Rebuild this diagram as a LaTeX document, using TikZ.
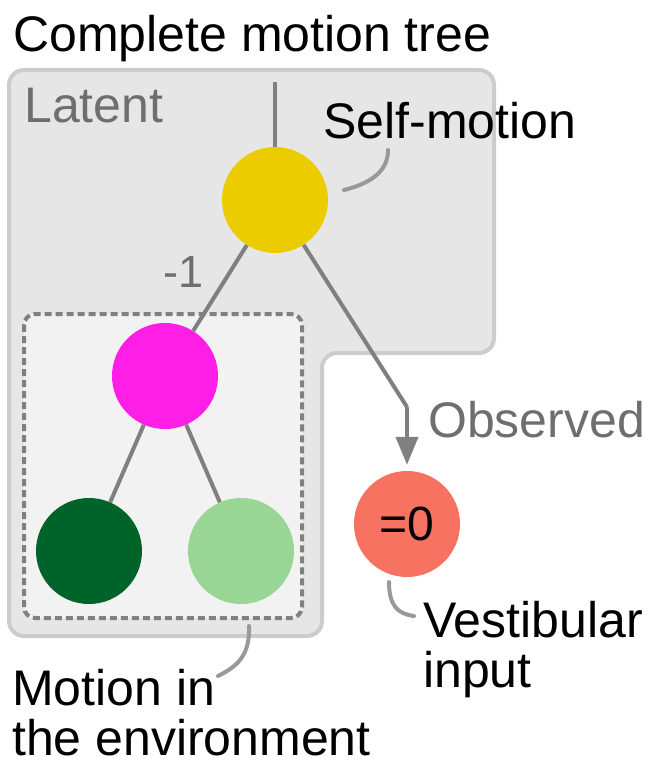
\documentclass[tikz,border=0pt]{standalone}
\usepackage{fontspec}
\setmainfont{Liberation Sans}
\usetikzlibrary{arrows.meta}

\definecolor{selfcol}{RGB}{235,204,0}
\definecolor{envcol}{RGB}{255,30,230}
\definecolor{darkcol}{RGB}{0,100,42}
\definecolor{lightcol}{RGB}{153,213,148}
\definecolor{vestcol}{RGB}{248,114,98}
\definecolor{linegray}{RGB}{128,128,128}
\definecolor{textgray}{RGB}{110,110,110}
\definecolor{calloutgray}{RGB}{153,153,153}
\definecolor{latentfill}{RGB}{230,230,230}
\definecolor{latentline}{RGB}{204,204,204}
\definecolor{envfill}{RGB}{242,242,242}

\begin{document}
\begin{tikzpicture}[x=1pt,y=-1pt,
    motion/.style={circle,minimum size=106pt,inner sep=0pt},
    link/.style={draw=linegray,line width=4pt},
    callout/.style={draw=calloutgray,line width=4pt,line cap=round},
    lbl/.style={font=\fontsize{50}{50}\selectfont,inner sep=0pt,anchor=base west,align=left}]
		\useasboundingbox (0,0) rectangle (650,768);

		% Latent region and the environment group
		\draw [fill=latentfill, draw=latentline, line width=4pt, rounded corners=15pt]
			(9,70) -- (494,70) -- (494,353) -- (322,353) -- (322,636) -- (9,636) -- cycle;
		\draw [fill=envfill, draw=linegray, line width=4pt, dash pattern=on 7pt off 4pt, rounded corners=11pt]
			(24,314) rectangle (302,618);

		% Nodes of the tree
		\coordinate (Root) at (275,82);
		\coordinate (Bend) at (407,407);
		\node[motion, fill=selfcol]  (Self)  at (275,200) {};
		\node[motion, fill=envcol]   (Env)   at (165,376) {};
		\node[motion, fill=darkcol]  (EnvA)  at (89,551)  {};
		\node[motion, fill=lightcol] (EnvB)  at (241,551) {};
		\node[motion, fill=vestcol, font=\fontsize{48}{48}\selectfont] (Vest) at (407,524) {=0};

		% Edges
		\draw [link] (Root) -- (Self);
		\draw [link] (Self) -- (Env);
		\draw [link] (Env) -- (EnvA);
		\draw [link] (Env) -- (EnvB);
		\draw [link] (Self) -- (Bend);
		\draw [link, -{Triangle[length=28pt,width=22pt]}, shorten >=6pt] (Bend) -- (Vest.north);

		% Labels
		\node[lbl] (Title)    at (13,52)  {Complete motion tree};
		\node[lbl, text=textgray] (Latent) at (24,122) {Latent};
		\node[lbl] (SelfLbl)  at (323,138) {Self-motion};
		\node[lbl, text=textgray, font=\fontsize{45}{45}\selectfont] (Weight) at (163,287) {-1};
		\node[lbl, text=textgray] (Observed) at (428,437) {Observed};
		\node[lbl] (VestLbl)  at (423,687) {Vestibular\\input};
		\node[lbl] (EnvLbl)   at (12,755)  {Motion in\\the environment};

		% Callouts
		\coordinate (SelfTip) at (344,190);
		\coordinate (SelfEnd) at (388,150);
		\coordinate (VestTip) at (389,582);
		\coordinate (VestEnd) at (414,616);
		\coordinate (EnvTip)  at (249,626);
		\coordinate (EnvEnd)  at (218,676);
		\draw [callout] (SelfTip) .. controls (376,182) and (388,168) .. (SelfEnd);
		\draw [callout] (VestTip) .. controls (389,606) and (398,614) .. (VestEnd);
		\draw [callout] (EnvTip) .. controls (250,655) and (238,666) .. (EnvEnd);
	  \end{tikzpicture}
\end{document}
